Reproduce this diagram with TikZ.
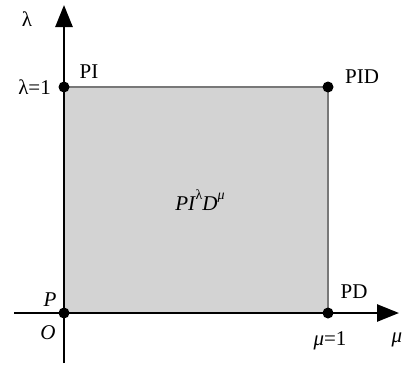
\documentclass[tikz,border=0pt]{standalone}
\usepackage{fontspec}
\setmainfont{Liberation Serif}
\usetikzlibrary{arrows.meta}
\begin{document}
\begin{tikzpicture}[x=1pt,y=1pt,
  axis/.style={line width=2.6pt,-{Triangle[length=22pt,width=17pt]}},
  dotm/.style={circle,fill=black,inner sep=0pt,minimum size=11pt},
  lbl/.style={font=\fontsize{21}{24}\selectfont,inner sep=0pt}]
\useasboundingbox (0,0) rectangle (411,368);
% coordinates (image y flipped)
\coordinate (O) at (64,55);
\coordinate (Ltop) at (64,281);
\coordinate (Mright) at (328,55);
\coordinate (PIDc) at (328,281);
\coordinate (ytip) at (64,363);
\coordinate (ybot) at (64,5);
\coordinate (xtip) at (399,55);
\coordinate (xleft) at (14,55);
\fill[fill={rgb,255:red,211;green,211;blue,211}] (O) rectangle (PIDc);
\draw[line width=1.5pt,color={rgb,255:red,120;green,120;blue,120}] (Ltop) -- (PIDc) -- (Mright);
\draw[axis] (ybot) -- (ytip);
\draw[axis] (xleft) -- (xtip);
\node[dotm] (dO) at (O) {};
\node[dotm] (dL) at (Ltop) {};
\node[dotm] (dM) at (Mright) {};
\node[dotm] (dP) at (PIDc) {};
\node[lbl] (lam) at (27,349) {λ};
\node[lbl,anchor=east] (lam1) at (51,281) {λ=1};
\node[lbl] (PI) at (89,296) {PI};
\node[lbl] (PID) at (362,291) {PID};
\node[lbl] (cen) at (200,168) {\itshape PI\kern0.5pt\raisebox{0.55em}{\upshape\fontsize{14}{16}\selectfont λ}D\raisebox{0.55em}{\fontsize{14}{16}\selectfont μ}};
\node[lbl] (P) at (50,68) {\itshape P};
\node[lbl] (Olab) at (48,35) {\itshape O};
\node[lbl] (PD) at (354,76) {PD};
\node[lbl] (mu1) at (330,27) {\itshape μ\upshape =1};
\node[lbl] (mu) at (397,28) {\itshape μ};
\end{tikzpicture}
\end{document}
